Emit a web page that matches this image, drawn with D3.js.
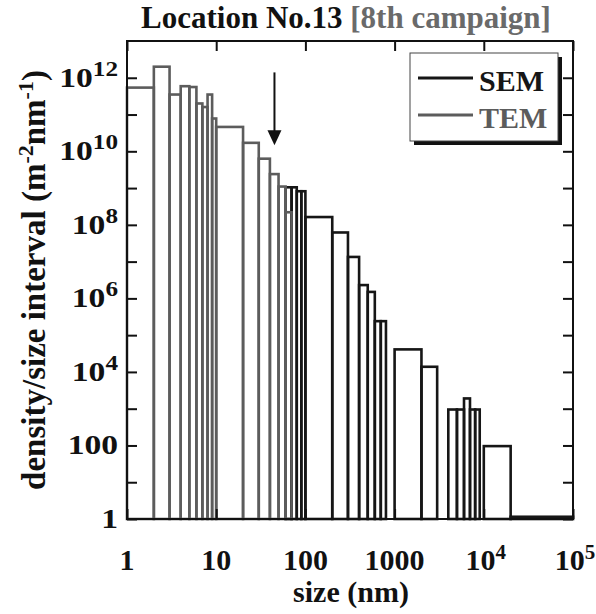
<!DOCTYPE html>
<html lang='en'>
<head>
  <meta charset='utf-8'/>
  <title>Location No.13 [8th campaign]</title>
  <script src='https://d3js.org/d3.v7.min.js'></script>
  <style>
    body{margin:0;background:#ffffff;}
    svg{display:block;font-family:'Liberation Serif','Times New Roman',serif;font-weight:bold;}
  </style>
</head>
<body>
<svg id='chart'></svg>
<script>
// Histogram bins (nm) and density per size interval (m^-2 nm^-1)
const temEdges  = [1, 2, 3, 4, 5, 6, 7, 8, 9, 10, 20, 30, 40, 50, 60, 70];
const temValues = [5.4e11, 2.0e12, 3.5e11, 5.9e11, 5.6e11, 2.0e11, 1.6e11, 3.5e11, 7.8e10,
                   4.6e10, 1.7e10, 6.3e9, 2.4e9, 1.1e9, 2.2e8];

const semEdges  = [60, 70, 80, 90, 100, 200, 300, 400, 500, 600, 700, 800, 900, 1000,
                   2000, 3000, 4000, 5000, 6000, 7000, 8000, 9000, 10000, 20000, 100000];
const semValues = [1.05e9, 1.05e9, 8.2e8, 8.2e8, 1.63e8, 6.2e7, 1.34e7, 2.3e6, 1.5e6, 2.4e5, 2.4e5, null, null,
                   4.1e4, 1.38e4, null, 950, 950, 1.9e3, 950, 950, null, 96, 1.15];

const xTicks = [1, 10, 100, 1000, 1e4, 1e5];
const yTicks = [1, 100, 1e4, 1e6, 1e8, 1e10, 1e12];
const yMinorTicks = [10, 1e3, 1e5, 1e7, 1e9, 1e11];

const arrowSize = 45;                 // nm, marked by the arrow
const arrowRange = [1.4e12, 1.45e10]; // from / to (density)

const series = [
  {name: 'SEM', color: '#161616', edges: semEdges, values: semValues},
  {name: 'TEM', color: '#5c5c5c', edges: temEdges, values: temValues}
];

// Layout
const W = 596, H = 614;
const margin = {top: 41, right: 23, bottom: 95, left: 127};

const svg = d3.select('#chart').attr('width', W).attr('height', H);

const x = d3.scaleLog().domain([1, 1e5]).range([margin.left, W - margin.right]);
const y = d3.scaleLog().domain([1, 1e13]).range([H - margin.bottom, margin.top]);

// Bars (outlines only)
series.forEach(s => {
  const bins = s.values.map((v, i) => ({lo: s.edges[i], hi: s.edges[i + 1], v}))
    .filter(d => d.v != null);
  svg.append('g').selectAll('rect').data(bins).join('rect')
    .attr('x', d => x(d.lo))
    .attr('width', d => x(d.hi) - x(d.lo))
    .attr('y', d => y(d.v))
    .attr('height', d => y(1) - y(d.v))
    .attr('fill', 'none')
    .attr('stroke', s.color)
    .attr('stroke-width', 2.6);
});

// Axes, ticks pointing inward on all four sides
const tick = 10;
const axes = [
  d3.axisBottom(x).tickValues(xTicks),
  d3.axisTop(x).tickValues(xTicks),
  d3.axisLeft(y).tickValues(yTicks.concat(yMinorTicks)),
  d3.axisRight(y).tickValues(yTicks.concat(yMinorTicks))
];
const pos = [
  `translate(0,${y(1)})`, `translate(0,${margin.top})`,
  `translate(${margin.left},0)`, `translate(${W - margin.right},0)`
];
axes.forEach((a, i) => {
  const g = svg.append('g').attr('transform', pos[i])
    .call(a.tickSizeInner(-tick).tickSizeOuter(0).tickFormat(''));
  g.select('.domain').remove();
  g.selectAll('line').attr('stroke', '#111').attr('stroke-width', 2);
});

// Frame
svg.append('rect')
  .attr('x', margin.left).attr('y', margin.top)
  .attr('width', W - margin.left - margin.right)
  .attr('height', H - margin.top - margin.bottom)
  .attr('fill', 'none').attr('stroke', '#111').attr('stroke-width', 2);

// Tick labels: plain numbers up to 1000, powers of ten above
function label(sel, v) {
  const e = Math.round(Math.log10(v));
  if (e <= 3) { sel.text(d3.format('d')(v)); return; }
  sel.append('tspan').text('10');
  sel.append('tspan').attr('dy', -11).attr('font-size', 21).text(e);
}

svg.append('g').selectAll('text').data(xTicks).join('text')
  .attr('x', d => x(d) + (d >= 1e4 ? 2 : 0))
  .attr('y', 570)
  .attr('text-anchor', 'middle')
  .attr('font-size', 30)
  .attr('fill', '#111')
  .each(function(d) { label(d3.select(this), d); });

// y tick labels are drawn a little wider than tall in the original
svg.append('g').selectAll('text').data(yTicks).join('text')
  .attr('transform', d => `translate(${margin.left - 9},${y(d) + 9}) scale(1.2,1)`)
  .attr('text-anchor', 'end')
  .attr('font-size', 28)
  .attr('fill', '#111')
  .each(function(d) { label(d3.select(this), d); });

// Axis titles
svg.append('text')
  .attr('x', 351).attr('y', 602)
  .attr('text-anchor', 'middle')
  .attr('font-size', 30)
  .attr('fill', '#111')
  .text('size (nm)');

const yt = svg.append('text')
  .attr('transform', 'translate(45,280) rotate(-90)')
  .attr('text-anchor', 'middle')
  .attr('font-size', 33)
  .attr('fill', '#111');
yt.append('tspan').text('density/size interval (m');
yt.append('tspan').attr('dy', -12).attr('font-size', 22).text('-2');
yt.append('tspan').attr('dy', 12).text('nm');
yt.append('tspan').attr('dy', -12).attr('font-size', 22).text('-1');
yt.append('tspan').attr('dy', 12).text(')');

// Title
const title = svg.append('text')
  .attr('x', 346).attr('y', 28)
  .attr('text-anchor', 'middle')
  .attr('font-size', 31);
title.append('tspan').attr('fill', '#111').text('Location No.13 ');
title.append('tspan').attr('fill', '#6a6a6a').text('[8th campaign]');

// Arrow
const ax = x(arrowSize);
svg.append('line')
  .attr('x1', ax).attr('x2', ax)
  .attr('y1', y(arrowRange[0])).attr('y2', y(arrowRange[1]) - 12)
  .attr('stroke', '#111').attr('stroke-width', 2);
svg.append('path')
  .attr('d', `M${ax - 7},${y(arrowRange[1]) - 15} L${ax + 7},${y(arrowRange[1]) - 15} L${ax},${y(arrowRange[1])} Z`)
  .attr('fill', '#111');

// Legend with drop shadow
const lg = svg.append('g').attr('transform', 'translate(410,53)');
lg.append('rect').attr('x', 4).attr('y', 4).attr('width', 148).attr('height', 88).attr('fill', '#111');
lg.append('rect').attr('width', 148).attr('height', 88).attr('fill', '#fff').attr('stroke', '#444').attr('stroke-width', 1);
series.forEach((s, i) => {
  const ly = 25 + i * 37;
  lg.append('line').attr('x1', 8).attr('x2', 63).attr('y1', ly).attr('y2', ly)
    .attr('stroke', s.color).attr('stroke-width', 3);
  lg.append('text').attr('x', 69).attr('y', ly + 13)
    .attr('font-size', 30).attr('fill', s.color).text(s.name);
});
</script>
</body>
</html>
